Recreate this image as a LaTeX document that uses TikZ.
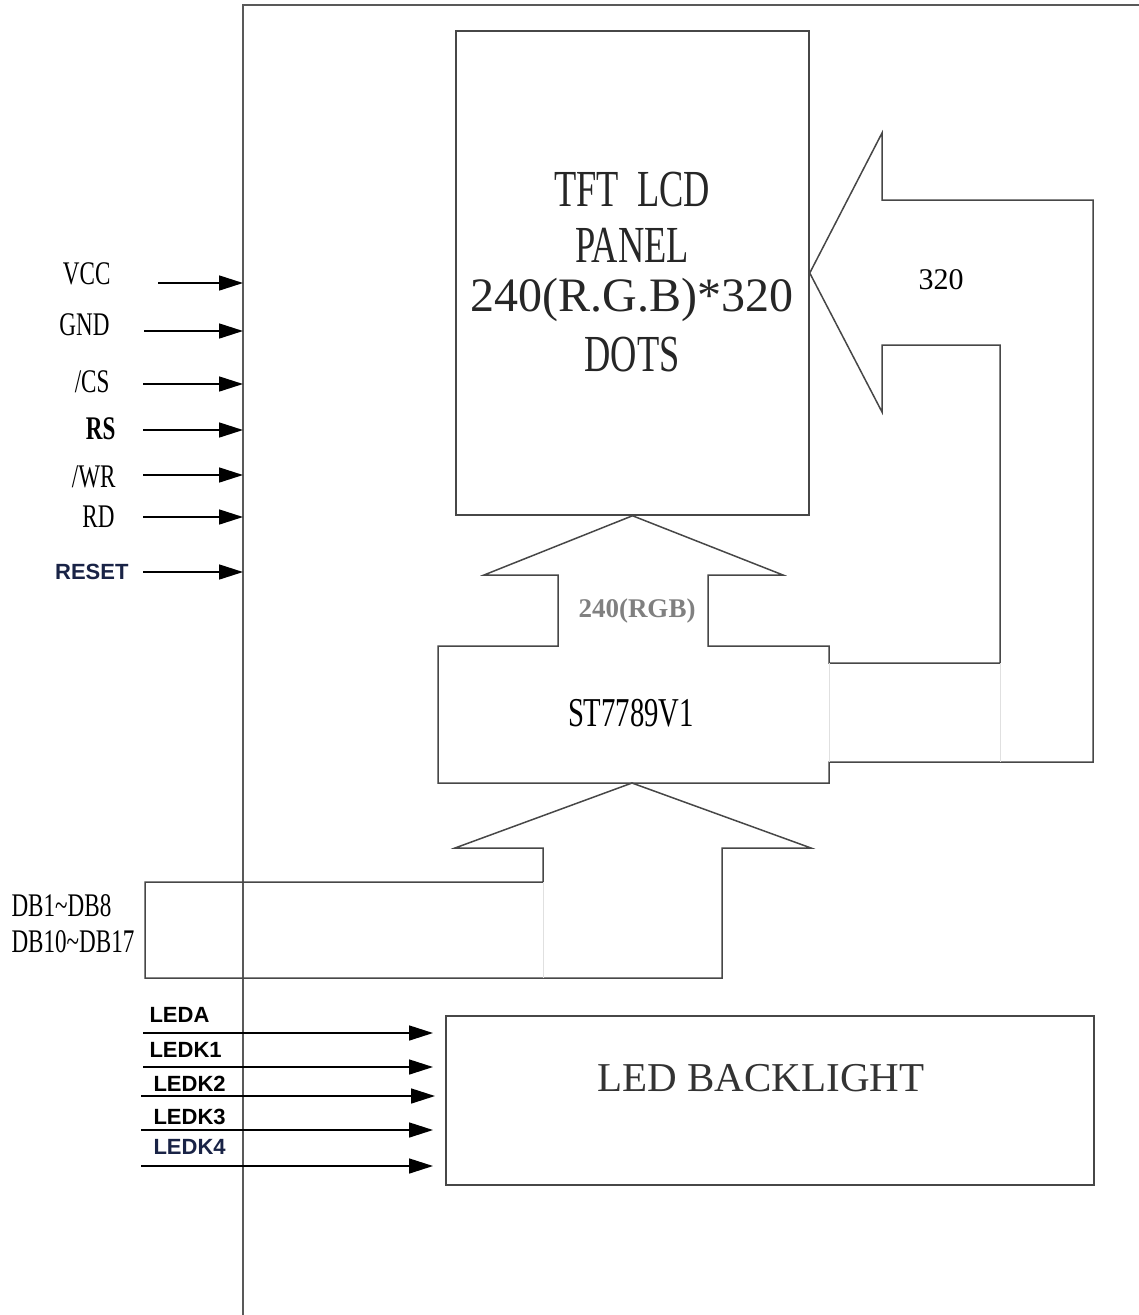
\documentclass[tikz,border=0pt]{standalone}
\usepackage{fontspec}
\setmainfont{Liberation Serif}
\setsansfont{Liberation Sans}
\newfontfamily\condfont[FakeStretch=0.7]{Liberation Serif}
\usetikzlibrary{arrows.meta}

\definecolor{navy}{RGB}{25,35,70}
\tikzset{
  outline/.style={draw=black!72, line width=1.5pt},
  faint/.style={draw=black!12, line width=1pt},
  modedge/.style={draw=black!65, line width=2pt},
  sig/.style={-{Triangle[length=24pt,width=15pt]}, line width=1.6pt},
  pinlbl/.style={anchor=east, font=\condfont\fontsize{33}{33}\selectfont},
  boldlbl/.style={font=\sffamily\bfseries\fontsize{22}{22}\selectfont, text=navy},
  paneltext/.style={font=\condfont\fontsize{52}{52}\selectfont, text=black!85},
}

\begin{document}
\begin{tikzpicture}[x=1pt, y=-1pt]
  \useasboundingbox (0,0) rectangle (1139,1315);

  % module outline: left and top edge
  \draw[modedge] (243,1315) -- (243,5) -- (1139,5);

  % TFT panel
  \node[outline, minimum width=353pt, minimum height=484pt, inner sep=0pt] (panel) at (632.5,273) {};
  \node[paneltext] (ptxt1) at (632,190) {TFT\ \ LCD};
  \node[paneltext] (ptxt2) at (632,245) {PANEL};
  \node[font=\fontsize{48}{48}\selectfont, text=black!85] (ptxt3) at (632,300) {240(R.G.B)*320};
  \node[paneltext] (ptxt4) at (632,355) {DOTS};

  % driver box, 240(RGB) bus up to the panel, 320 bus round to the right side
  \draw[outline] (panel.south) -- (783,575) -- (708,575) -- (708,646) -- (829,646) -- (829,663)
        -- (1000,663) -- (1000,345) -- (882,345) -- (882,412) -- (panel.east) -- (882,133)
        -- (882,200) -- (1093,200) -- (1093,762) -- (829,762) -- (829,783) -- (438,783)
        -- (438,646) -- (558,646) -- (558,575) -- (484,575) -- cycle;
  \draw[faint] (829,663) -- (829,762);
  \draw[faint] (1000,663) -- (1000,762);
  \node[font=\fontsize{27}{27}\selectfont\bfseries, text=black!50] (rgb) at (637,611) {240(RGB)};
  \node[font=\fontsize{30}{30}\selectfont] (rows) at (941,280) {320};
  \node[font=\condfont\fontsize{41}{41}\selectfont] (drv) at (631,713) {ST7789V1};

  % data bus into the driver
  \draw[outline] (632,783) -- (811,848) -- (722,848) -- (722,978) -- (145,978) -- (145,882)
        -- (543,882) -- (543,848) -- (455,848) -- cycle;
  \draw[faint] (543,882) -- (543,978);
  \node[pinlbl, anchor=west] (db1) at (8,906) {DB1\char"7E DB8};
  \node[pinlbl, anchor=west] (db2) at (8,942) {DB10\char"7E DB17};

  % control pins
  \node[pinlbl] (vcc) at (114,274) {VCC};
  \node[pinlbl] (gnd) at (113,325) {GND};
  \node[pinlbl] (cs) at (113,382) {/CS};
  \node[pinlbl, font=\condfont\bfseries\fontsize{33}{33}\selectfont] (rs) at (119,429) {RS};
  \node[pinlbl] (wr) at (119,477) {/WR};
  \node[pinlbl] (rd) at (118,517) {RD};
  \node[boldlbl, anchor=east] (rst) at (132,572) {RESET};
  \coordinate (vcc-s) at (158,283);  \coordinate (vcc-e) at (243,283);
  \coordinate (gnd-s) at (144,331);  \coordinate (gnd-e) at (243,331);
  \coordinate (cs-s) at (143,384);   \coordinate (cs-e) at (243,384);
  \coordinate (rs-s) at (143,430);   \coordinate (rs-e) at (243,430);
  \coordinate (wr-s) at (143,475);   \coordinate (wr-e) at (243,475);
  \coordinate (rd-s) at (143,517);   \coordinate (rd-e) at (243,517);
  \coordinate (rst-s) at (143,572);  \coordinate (rst-e) at (243,572);
  \draw[sig] (vcc-s) -- (vcc-e);
  \draw[sig] (gnd-s) -- (gnd-e);
  \draw[sig] (cs-s) -- (cs-e);
  \draw[sig] (rs-s) -- (rs-e);
  \draw[sig] (wr-s) -- (wr-e);
  \draw[sig] (rd-s) -- (rd-e);
  \draw[sig] (rst-s) -- (rst-e);

  % backlight
  \node[outline, minimum width=648pt, minimum height=169pt, inner sep=0pt] (bl) at (770,1100.5) {};
  \node[font=\fontsize{41}{41}\selectfont, text=black!80] (bltxt) at (761,1078) {LED BACKLIGHT};
  \node[boldlbl, anchor=west, text=black] (leda) at (146,1015) {LEDA};
  \node[boldlbl, anchor=west, text=black] (ledk1) at (146,1050) {LEDK1};
  \node[boldlbl, anchor=west, text=black] (ledk2) at (150,1084) {LEDK2};
  \node[boldlbl, anchor=west, text=black] (ledk3) at (150,1117) {LEDK3};
  \node[boldlbl, anchor=west] (ledk4) at (150,1147) {LEDK4};
  \coordinate (leda-s) at (143,1033);   \coordinate (leda-e) at (433,1033);
  \coordinate (ledk1-s) at (143,1067);  \coordinate (ledk1-e) at (433,1067);
  \coordinate (ledk2-s) at (141,1096);  \coordinate (ledk2-e) at (435,1096);
  \coordinate (ledk3-s) at (141,1130);  \coordinate (ledk3-e) at (433,1130);
  \coordinate (ledk4-s) at (141,1166);  \coordinate (ledk4-e) at (433,1166);
  \draw[sig] (leda-s) -- (leda-e);
  \draw[sig] (ledk1-s) -- (ledk1-e);
  \draw[sig] (ledk2-s) -- (ledk2-e);
  \draw[sig] (ledk3-s) -- (ledk3-e);
  \draw[sig] (ledk4-s) -- (ledk4-e);
\end{tikzpicture}
\end{document}
